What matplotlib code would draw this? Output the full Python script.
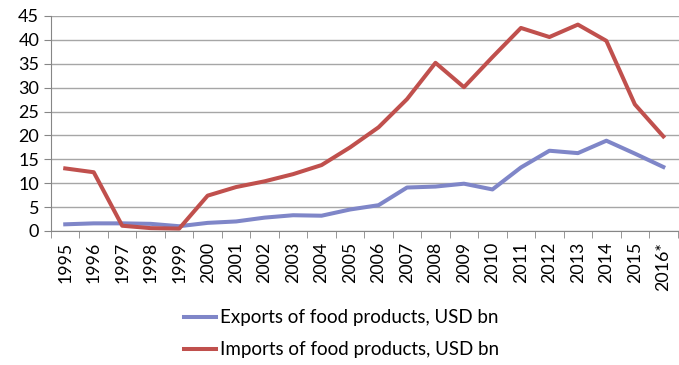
import matplotlib.pyplot as plt
import numpy as np

plt.rcParams['font.family'] = ['Lato', 'DejaVu Sans']

years = ["1995", "1996", "1997", "1998", "1999", "2000", "2001", "2002", "2003",
         "2004", "2005", "2006", "2007", "2008", "2009", "2010", "2011", "2012",
         "2013", "2014", "2015", "2016*"]
exports = [1.4, 1.6, 1.6, 1.5, 1.0, 1.7, 2.0, 2.8, 3.3, 3.2, 4.5, 5.4, 9.1, 9.3,
           9.9, 8.7, 13.3, 16.8, 16.3, 18.9, 16.2, 13.4]
imports = [13.1, 12.3, 1.1, 0.6, 0.5, 7.4, 9.2, 10.4, 11.9, 13.8, 17.5, 21.7,
           27.6, 35.2, 30.1, 36.4, 42.5, 40.6, 43.2, 39.8, 26.5, 19.8]

fig = plt.figure(figsize=(6.79, 3.65), dpi=100)
ax = fig.add_axes([51/679, 1-231/365, 628/679, 215/365])

x = np.arange(len(years))
ax.plot(x, exports, color="#7F86C8", lw=2.9, label="Exports of food products, USD bn")
ax.plot(x, imports, color="#C0504D", lw=2.9, label="Imports of food products, USD bn")

ax.set_ylim(0, 45)
ax.set_yticks(range(0, 46, 5))
ax.set_xlim(-0.5, len(years) - 0.5 + 0.05)
ax.set_xticks(x)
ax.set_xticklabels(years, rotation=90)
ax.set_xticks(np.arange(-0.5, len(years), 1), minor=True)
ax.tick_params(axis="x", which="major", length=0, pad=8, labelsize=12.8)
ax.tick_params(axis="x", which="minor", length=5, color="#868686")
ax.tick_params(axis="y", length=5, color="#868686", labelsize=13)
ax.grid(axis="y", color="#A6A6A6", lw=1)
ax.set_axisbelow(True)
for s in ["top", "right"]:
    ax.spines[s].set_visible(False)
for s in ["left", "bottom"]:
    ax.spines[s].set_color("#868686")

fig.legend(loc="center", bbox_to_anchor=(0.503, 0.085), frameon=False, fontsize=13.5,
           handlelength=1.7, handletextpad=0.2, labelspacing=0.8)

fig.savefig("out.png", dpi=100)
